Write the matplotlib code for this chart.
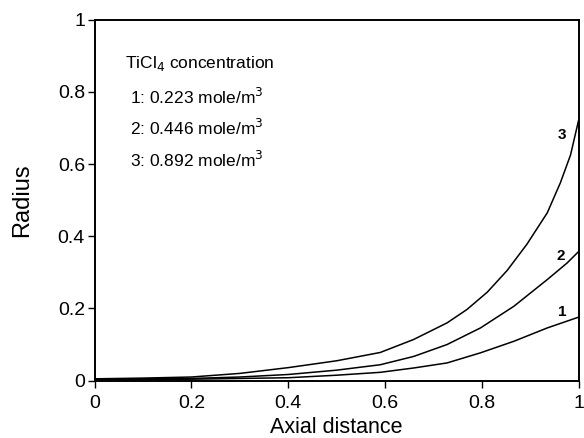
import numpy as np
import matplotlib.pyplot as plt

plt.rcParams['font.family'] = ['Liberation Sans', 'DejaVu Sans']

# values
x1 = [0.0, 0.1, 0.2, 0.3, 0.4, 0.5, 0.59, 0.659, 0.728, 0.797, 0.866, 0.935, 1.0]
r1 = [0.003, 0.003, 0.004, 0.006, 0.008, 0.015, 0.023, 0.035, 0.049, 0.077, 0.109, 0.146, 0.176]

x2 = [0.0, 0.1, 0.2, 0.3, 0.4, 0.5, 0.59, 0.659, 0.728, 0.797, 0.866, 0.935, 0.976, 1.0]
r2 = [0.004, 0.005, 0.006, 0.010, 0.017, 0.029, 0.044, 0.067, 0.100, 0.146, 0.206, 0.280, 0.326, 0.358]

x3 = [0.0, 0.1, 0.2, 0.3, 0.4, 0.5, 0.59, 0.659, 0.728, 0.769, 0.811, 0.852, 0.893, 0.935, 0.962, 0.983, 1.0]
r3 = [0.005, 0.007, 0.010, 0.020, 0.036, 0.055, 0.078, 0.114, 0.160, 0.197, 0.245, 0.305, 0.378, 0.465, 0.548, 0.625, 0.723]

curve_labels = ['1', '2', '3']
label_pos = [(0.966, 0.19), (0.962, 0.345), (0.966, 0.68)]

legend_title = 'TiCl$_4$ concentration'
legend_lines = ['1: 0.223 mole/m$^3$', '2: 0.446 mole/m$^3$', '3: 0.892 mole/m$^3$']

fig = plt.figure(figsize=(5.84, 4.38), dpi=100)
ax = fig.add_axes([0.162, 0.131, 0.829, 0.824])

for xs, rs in zip([x1, x2, x3], [r1, r2, r3]):
    ax.plot(xs, rs, color='black', lw=1.1)

for lab, (lx, ly) in zip(curve_labels, label_pos):
    ax.text(lx, ly, lab, fontsize=11, fontweight='bold', ha='center', va='center')

ax.text(0.063, 0.88, legend_title, fontsize=12.5, ha='left', va='center')
for i, line in enumerate(legend_lines):
    ax.text(0.074, 0.786 - i * 0.087, line, fontsize=12.5, ha='left', va='center')

ax.set_xlim(0, 1)
ax.set_ylim(0, 1)
ax.set_xticks([0, 0.2, 0.4, 0.6, 0.8, 1])
ax.set_xticklabels(['0', '0.2', '0.4', '0.6', '0.8', '1'])
ax.set_yticks([0, 0.2, 0.4, 0.6, 0.8, 1])
ax.set_yticklabels(['0', '0.2', '0.4', '0.6', '0.8', '1'])
ax.tick_params(direction='out', length=5, width=1, labelsize=14)
ax.tick_params(axis='x', pad=5)
ax.tick_params(axis='y', pad=2)
for s in ax.spines.values():
    s.set_linewidth(1.4)

ax.set_xlabel('Axial distance', fontsize=15.5, labelpad=4)
ax.set_ylabel('Radius', fontsize=17, labelpad=18)

fig.savefig('out.png', dpi=100)
